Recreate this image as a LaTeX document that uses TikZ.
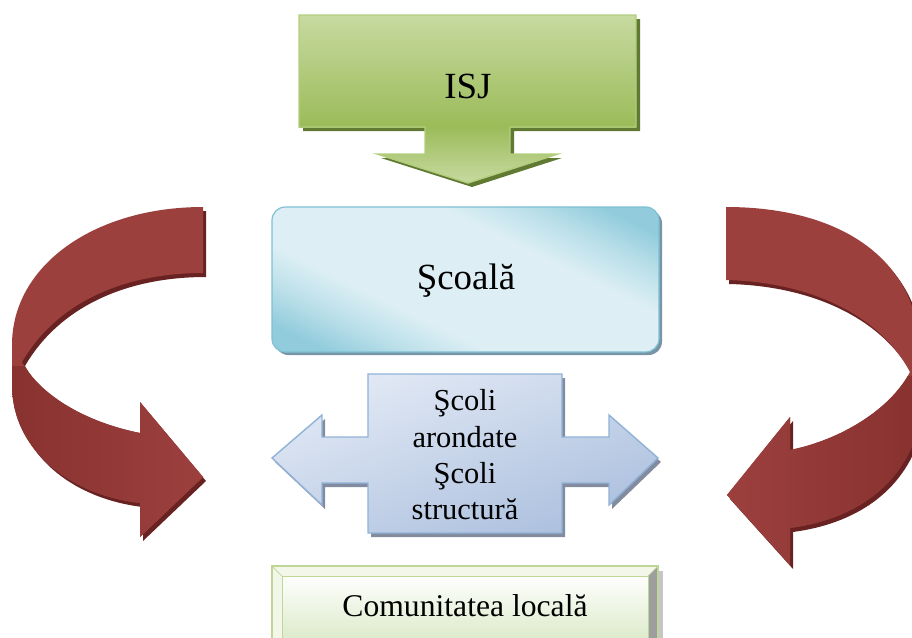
\documentclass[tikz,border=0pt]{standalone}
\usepackage{fontspec}
\setmainfont{Liberation Serif}
\definecolor{gtop}{RGB}{199,218,160}
\definecolor{gbot}{RGB}{155,187,89}
\definecolor{gborder}{RGB}{178,206,125}
\definecolor{gshadow}{RGB}{96,122,52}
\definecolor{blight}{RGB}{221,239,244}
\definecolor{bmid}{RGB}{188,224,234}
\definecolor{bdark}{RGB}{146,204,220}
\definecolor{bborder}{RGB}{125,192,212}
\definecolor{bshadow}{RGB}{120,148,165}
\definecolor{slight}{RGB}{226,233,245}
\definecolor{sdark}{RGB}{172,192,222}
\definecolor{sborder}{RGB}{145,178,215}
\definecolor{sshadow}{RGB}{130,140,158}
\definecolor{rmain}{RGB}{156,64,62}
\definecolor{rlight}{RGB}{184,78,73}
\definecolor{rdark}{RGB}{136,50,48}
\definecolor{rshadow}{RGB}{104,34,34}
\definecolor{clight}{RGB}{242,247,234}
\definecolor{cface}{RGB}{218,233,198}
\definecolor{cborder}{RGB}{190,214,150}
\definecolor{cgray}{RGB}{158,158,158}
\pgfdeclarehorizontalshading{scoalashade}{100bp}{color(0bp)=(bdark); color(22bp)=(bdark); color(30bp)=(bmid); color(38bp)=(blight); color(62bp)=(blight); color(70bp)=(bmid); color(78bp)=(bdark); color(100bp)=(bdark)}
\def\isjpath{(299,15) -- (636,15) -- (636,127) -- (510,127) -- (510,154) -- (558,154) -- (468,183) -- (377,154) -- (425,154) -- (425,127) -- (299,127) -- cycle}
\def\stempath{(425,126) -- (510,126) -- (510,154) -- (558,154) -- (468,183) -- (377,154) -- (425,154) -- cycle}
\def\arrpath{(272,458) -- (322,415) -- (322,437) -- (368,437) -- (368,374) -- (562,374) -- (562,437) -- (609,437) -- (609,415) -- (658,458) -- (609,505) -- (609,483) -- (562,483) -- (562,533) -- (368,533) -- (368,483) -- (322,483) -- (322,505) -- cycle}
\def\lcurve{(203,207) .. controls (95,207) and (12,265) .. (12,345) -- (12,385) .. controls (12,450) and (70,495) .. (140,503) -- (140,537) -- (203,477) -- (140,402) -- (140,433) .. controls (85,422) and (40,395) .. (22,362) .. controls (55,305) and (120,273) .. (203,273) -- cycle}
\def\rcurve{(726,207) .. controls (830,207) and (905,250) .. (918,330) -- (918,430) .. controls (900,490) and (850,520) .. (790,528) -- (790,565) -- (727,495) -- (790,417) -- (790,450) .. controls (840,440) and (890,410) .. (910,372) .. controls (880,315) and (810,282) .. (726,280) -- cycle}
\begin{document}
\begin{tikzpicture}[x=0.03cm,y=-0.03cm,
  txt/.style={inner sep=0pt, font=\fontsize{31.5}{36}\selectfont},
  stxt/.style={inner sep=0pt, align=center, font=\fontsize{26}{31}\selectfont},
  ctxt/.style={inner sep=0pt, font=\fontsize{27}{32}\selectfont}]
\useasboundingbox (0,0) rectangle (912,638);
\clip (0,0) rectangle (912,638);
% ISJ callout
\fill[gshadow] [shift={(4,4)}] \isjpath;
\shade[top color=gtop, bottom color=gbot] (299,15) rectangle (636,127);
\shade[top color=gbot, bottom color=gtop] \stempath;
\draw[gborder, line width=1.2pt] \isjpath;
\node[txt] (isj) at (468,86) {ISJ};
% Scoala box
\fill[bshadow, rounded corners=0.4cm] (275,210) rectangle (662,355);
\path[shading=scoalashade, shading angle=64, draw=bborder, line width=1pt, rounded corners=0.4cm] (272,207) rectangle (659,352);
\node[txt] (scoala) at (466,281) {Şcoală};
% double arrow
\fill[sshadow] [shift={(3,4)}] \arrpath;
\path[left color=slight, right color=sdark, shading angle=20, draw=sborder, line width=1.2pt] \arrpath;
\node[stxt] (scoli) at (465,455) {Şcoli\\arondate\\Şcoli\\structură};
% left curved arrow
\fill[rshadow] [shift={(3,4)}] \lcurve;
\fill[rmain] \lcurve;
\begin{scope}
\clip \lcurve;
\shade[left color=rdark, middle color=rlight, right color=rmain] (10,366) rectangle (205,540);
\end{scope}
% right curved arrow
\fill[rshadow] [shift={(3,4)}] \rcurve;
\fill[rmain] \rcurve;
\begin{scope}
\clip \rcurve;
\shade[left color=rmain, middle color=rlight, right color=rdark] (725,376) rectangle (915,570);
\end{scope}
% Comunitatea locala
\fill[gray!45] (277,571) rectangle (663,645);
\fill[clight] (272,566) rectangle (658,645);
\fill[cgray] (648,576) -- (658,566) -- (658,645) -- (648,645) -- cycle;
\shade[top color=white!97!cface, bottom color=cface] (282,576) rectangle (648,645);
\draw[cborder, line width=0.6pt] (272,566) -- (282,576) (658,566) -- (648,576);
\draw[cborder, line width=0.6pt] (282,645) -- (282,576) -- (648,576) -- (648,645);
\draw[cborder, line width=1.4pt] (272,645) -- (272,566) -- (658,566) -- (658,645);
\node[ctxt] (comunitatea) at (465,606) {Comunitatea locală};
\end{tikzpicture}
\end{document}
